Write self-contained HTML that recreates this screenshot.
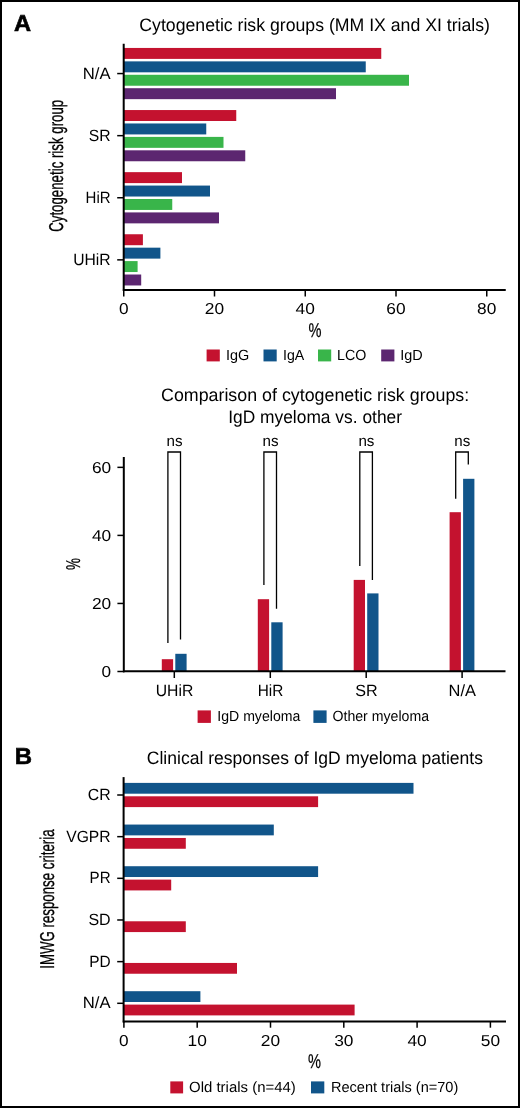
<!DOCTYPE html>
<html lang="en">
<head>
<meta charset="utf-8">
<title>Cytogenetic risk groups and clinical responses in IgD myeloma</title>
<style>
html,body{margin:0;padding:0;background:#fff;}
body{width:520px;height:1108px;overflow:hidden;}
.fig{position:relative;width:520px;height:1108px;box-sizing:border-box;border:2px solid #000;background:#fff;}
svg{position:absolute;left:-2px;top:-2px;display:block;will-change:transform;}
text{font-family:"Liberation Sans", Arial, Helvetica, sans-serif;fill:#000;text-rendering:geometricPrecision;}
</style>
</head>
<body>
<div class="fig">
<svg width="520" height="1108" viewBox="0 0 520 1108">
<g id="chartA1">
<text x="14.00" y="30.60" font-size="23" font-weight="bold" textLength="17.10" lengthAdjust="spacingAndGlyphs" stroke="#000" stroke-width="0.6">A</text>
<text x="139.30" y="30.80" font-size="18" font-weight="normal" textLength="350.70" lengthAdjust="spacingAndGlyphs">Cytogenetic risk groups (MM IX and XI trials)</text>
<rect x="123.70" y="47.95" width="257.55" height="10.95" fill="#C4122F"/>
<rect x="123.70" y="61.37" width="242.05" height="10.95" fill="#11558A"/>
<rect x="123.70" y="74.79" width="285.30" height="10.95" fill="#39B54A"/>
<rect x="123.70" y="88.21" width="212.30" height="10.95" fill="#5C2670"/>
<line x1="117.20" y1="73.56" x2="123.70" y2="73.56" stroke="#000" stroke-width="1.5"/>
<text x="82.80" y="78.56" font-size="16.3" font-weight="normal" textLength="27.80" lengthAdjust="spacingAndGlyphs">N/A</text>
<rect x="123.70" y="110.05" width="112.55" height="10.95" fill="#C4122F"/>
<rect x="123.70" y="123.47" width="82.55" height="10.95" fill="#11558A"/>
<rect x="123.70" y="136.89" width="99.80" height="10.95" fill="#39B54A"/>
<rect x="123.70" y="150.31" width="121.55" height="10.95" fill="#5C2670"/>
<line x1="117.20" y1="135.66" x2="123.70" y2="135.66" stroke="#000" stroke-width="1.5"/>
<text x="88.80" y="140.66" font-size="16.3" font-weight="normal" textLength="21.80" lengthAdjust="spacingAndGlyphs">SR</text>
<rect x="123.70" y="172.15" width="58.30" height="10.95" fill="#C4122F"/>
<rect x="123.70" y="185.57" width="86.30" height="10.95" fill="#11558A"/>
<rect x="123.70" y="198.99" width="48.55" height="10.95" fill="#39B54A"/>
<rect x="123.70" y="212.41" width="95.30" height="10.95" fill="#5C2670"/>
<line x1="117.20" y1="197.75" x2="123.70" y2="197.75" stroke="#000" stroke-width="1.5"/>
<text x="85.60" y="202.75" font-size="16.3" font-weight="normal" textLength="25.00" lengthAdjust="spacingAndGlyphs">HiR</text>
<rect x="123.70" y="234.25" width="19.20" height="10.95" fill="#C4122F"/>
<rect x="123.70" y="247.67" width="36.70" height="10.95" fill="#11558A"/>
<rect x="123.70" y="261.09" width="13.90" height="10.95" fill="#39B54A"/>
<rect x="123.70" y="274.51" width="17.50" height="10.95" fill="#5C2670"/>
<line x1="117.20" y1="259.86" x2="123.70" y2="259.86" stroke="#000" stroke-width="1.5"/>
<text x="73.20" y="264.86" font-size="16.3" font-weight="normal" textLength="37.40" lengthAdjust="spacingAndGlyphs">UHiR</text>
<line x1="123.70" y1="43.75" x2="123.70" y2="290.95" stroke="#000" stroke-width="2"/>
<line x1="122.90" y1="289.95" x2="505.75" y2="289.95" stroke="#000" stroke-width="2"/>
<line x1="123.75" y1="289.95" x2="123.75" y2="296.50" stroke="#000" stroke-width="1.5"/>
<text x="118.95" y="314.40" font-size="15.8" font-weight="normal" textLength="9.60" lengthAdjust="spacingAndGlyphs">0</text>
<line x1="214.50" y1="289.95" x2="214.50" y2="296.50" stroke="#000" stroke-width="1.5"/>
<text x="204.85" y="314.40" font-size="15.8" font-weight="normal" textLength="19.30" lengthAdjust="spacingAndGlyphs">20</text>
<line x1="305.25" y1="289.95" x2="305.25" y2="296.50" stroke="#000" stroke-width="1.5"/>
<text x="295.60" y="314.40" font-size="15.8" font-weight="normal" textLength="19.30" lengthAdjust="spacingAndGlyphs">40</text>
<line x1="396.00" y1="289.95" x2="396.00" y2="296.50" stroke="#000" stroke-width="1.5"/>
<text x="386.35" y="314.40" font-size="15.8" font-weight="normal" textLength="19.30" lengthAdjust="spacingAndGlyphs">60</text>
<line x1="486.75" y1="289.95" x2="486.75" y2="296.50" stroke="#000" stroke-width="1.5"/>
<text x="477.10" y="314.40" font-size="15.8" font-weight="normal" textLength="19.30" lengthAdjust="spacingAndGlyphs">80</text>
<text transform="translate(62.50,231.80) rotate(-90)" font-size="20" textLength="132.00" lengthAdjust="spacingAndGlyphs" stroke="#000" stroke-width="0.3">Cytogenetic risk group</text>
<text x="308.40" y="337.00" font-size="20" font-weight="normal" textLength="13.00" lengthAdjust="spacingAndGlyphs" stroke="#000" stroke-width="0.25">%</text>
<rect x="206.60" y="349.50" width="13.20" height="11.90" fill="#C4122F"/>
<text x="226.00" y="359.90" font-size="14.7" font-weight="normal" textLength="23.30" lengthAdjust="spacingAndGlyphs">IgG</text>
<rect x="263.50" y="349.50" width="13.20" height="11.90" fill="#11558A"/>
<text x="283.00" y="359.90" font-size="14.7" font-weight="normal" textLength="21.30" lengthAdjust="spacingAndGlyphs">IgA</text>
<rect x="318.00" y="349.50" width="13.20" height="11.90" fill="#39B54A"/>
<text x="337.00" y="359.90" font-size="14.7" font-weight="normal" textLength="29.30" lengthAdjust="spacingAndGlyphs">LCO</text>
<rect x="381.20" y="349.50" width="13.20" height="11.90" fill="#5C2670"/>
<text x="400.30" y="359.90" font-size="14.7" font-weight="normal" textLength="22.50" lengthAdjust="spacingAndGlyphs">IgD</text>
</g>
<g id="chartA2">
<text x="161.00" y="401.20" font-size="18" font-weight="normal" textLength="308.20" lengthAdjust="spacingAndGlyphs">Comparison of cytogenetic risk groups:</text>
<text x="228.20" y="423.00" font-size="18" font-weight="normal" textLength="173.80" lengthAdjust="spacingAndGlyphs">IgD myeloma vs. other</text>
<rect x="161.80" y="659.20" width="11.30" height="12.10" fill="#C4122F"/>
<rect x="175.30" y="653.80" width="11.30" height="17.50" fill="#11558A"/>
<polyline points="167.90,643.00 167.90,452 180.50,452 180.50,639.60" fill="none" stroke="#000" stroke-width="1.3"/>
<text x="166.50" y="446.40" font-size="15.2" font-weight="normal" textLength="16.00" lengthAdjust="spacingAndGlyphs">ns</text>
<line x1="174.30" y1="671.30" x2="174.30" y2="678.00" stroke="#000" stroke-width="1.5"/>
<text x="155.70" y="696.30" font-size="16.3" font-weight="normal" textLength="37.60" lengthAdjust="spacingAndGlyphs">UHiR</text>
<rect x="257.80" y="599.20" width="11.30" height="72.10" fill="#C4122F"/>
<rect x="271.30" y="622.30" width="11.30" height="49.00" fill="#11558A"/>
<polyline points="263.90,585.00 263.90,452 276.50,452 276.50,608.80" fill="none" stroke="#000" stroke-width="1.3"/>
<text x="262.50" y="446.40" font-size="15.2" font-weight="normal" textLength="16.00" lengthAdjust="spacingAndGlyphs">ns</text>
<line x1="270.30" y1="671.30" x2="270.30" y2="678.00" stroke="#000" stroke-width="1.5"/>
<text x="257.70" y="696.30" font-size="16.3" font-weight="normal" textLength="25.60" lengthAdjust="spacingAndGlyphs">HiR</text>
<rect x="353.70" y="579.90" width="11.30" height="91.40" fill="#C4122F"/>
<rect x="367.20" y="593.40" width="11.30" height="77.90" fill="#11558A"/>
<polyline points="359.80,566.00 359.80,452 372.40,452 372.40,580.00" fill="none" stroke="#000" stroke-width="1.3"/>
<text x="358.40" y="446.40" font-size="15.2" font-weight="normal" textLength="16.00" lengthAdjust="spacingAndGlyphs">ns</text>
<line x1="366.20" y1="671.30" x2="366.20" y2="678.00" stroke="#000" stroke-width="1.5"/>
<text x="355.20" y="696.30" font-size="16.3" font-weight="normal" textLength="22.40" lengthAdjust="spacingAndGlyphs">SR</text>
<rect x="449.60" y="512.20" width="11.30" height="159.10" fill="#C4122F"/>
<rect x="463.10" y="478.80" width="11.30" height="192.50" fill="#11558A"/>
<polyline points="455.70,498.70 455.70,452 468.30,452 468.30,464.40" fill="none" stroke="#000" stroke-width="1.3"/>
<text x="454.30" y="446.40" font-size="15.2" font-weight="normal" textLength="16.00" lengthAdjust="spacingAndGlyphs">ns</text>
<line x1="462.10" y1="671.30" x2="462.10" y2="678.00" stroke="#000" stroke-width="1.5"/>
<text x="448.60" y="696.30" font-size="16.3" font-weight="normal" textLength="27.40" lengthAdjust="spacingAndGlyphs">N/A</text>
<line x1="123.80" y1="457.00" x2="123.80" y2="672.30" stroke="#000" stroke-width="2"/>
<line x1="123.00" y1="671.30" x2="505.50" y2="671.30" stroke="#000" stroke-width="2"/>
<line x1="117.40" y1="671.50" x2="123.80" y2="671.50" stroke="#000" stroke-width="1.5"/>
<text x="101.60" y="677.00" font-size="15.8" font-weight="normal" textLength="9.60" lengthAdjust="spacingAndGlyphs">0</text>
<line x1="117.40" y1="603.45" x2="123.80" y2="603.45" stroke="#000" stroke-width="1.5"/>
<text x="91.90" y="608.95" font-size="15.8" font-weight="normal" textLength="19.30" lengthAdjust="spacingAndGlyphs">20</text>
<line x1="117.40" y1="535.40" x2="123.80" y2="535.40" stroke="#000" stroke-width="1.5"/>
<text x="91.90" y="540.90" font-size="15.8" font-weight="normal" textLength="19.30" lengthAdjust="spacingAndGlyphs">40</text>
<line x1="117.40" y1="467.35" x2="123.80" y2="467.35" stroke="#000" stroke-width="1.5"/>
<text x="91.90" y="472.85" font-size="15.8" font-weight="normal" textLength="19.30" lengthAdjust="spacingAndGlyphs">60</text>
<text transform="translate(80.30,570.00) rotate(-90)" font-size="20" textLength="12.00" lengthAdjust="spacingAndGlyphs" stroke="#000" stroke-width="0.3">%</text>
<rect x="197.60" y="710.40" width="13.30" height="12.50" fill="#C4122F"/>
<text x="217.30" y="720.80" font-size="14.7" font-weight="normal" textLength="83.00" lengthAdjust="spacingAndGlyphs">IgD myeloma</text>
<rect x="313.40" y="710.40" width="13.20" height="12.50" fill="#11558A"/>
<text x="332.50" y="720.80" font-size="14.7" font-weight="normal" textLength="96.50" lengthAdjust="spacingAndGlyphs">Other myeloma</text>
</g>
<g id="chartB">
<text x="14.70" y="763.90" font-size="23" font-weight="bold" textLength="17.30" lengthAdjust="spacingAndGlyphs" stroke="#000" stroke-width="0.6">B</text>
<text x="146.80" y="764.00" font-size="18" font-weight="normal" textLength="336.20" lengthAdjust="spacingAndGlyphs">Clinical responses of IgD myeloma patients</text>
<rect x="123.60" y="782.90" width="289.90" height="10.80" fill="#11558A"/>
<rect x="123.60" y="796.30" width="194.50" height="10.80" fill="#C4122F"/>
<line x1="117.20" y1="795.00" x2="123.60" y2="795.00" stroke="#000" stroke-width="1.5"/>
<text x="87.80" y="799.90" font-size="16.3" font-weight="normal" textLength="22.80" lengthAdjust="spacingAndGlyphs">CR</text>
<rect x="123.60" y="824.56" width="150.20" height="10.80" fill="#11558A"/>
<rect x="123.60" y="837.96" width="62.20" height="10.80" fill="#C4122F"/>
<line x1="117.20" y1="836.66" x2="123.60" y2="836.66" stroke="#000" stroke-width="1.5"/>
<text x="66.20" y="841.56" font-size="16.3" font-weight="normal" textLength="44.40" lengthAdjust="spacingAndGlyphs">VGPR</text>
<rect x="123.60" y="866.22" width="194.50" height="10.80" fill="#11558A"/>
<rect x="123.60" y="879.62" width="47.60" height="10.80" fill="#C4122F"/>
<line x1="117.20" y1="878.32" x2="123.60" y2="878.32" stroke="#000" stroke-width="1.5"/>
<text x="89.60" y="883.22" font-size="16.3" font-weight="normal" textLength="21.00" lengthAdjust="spacingAndGlyphs">PR</text>
<rect x="123.60" y="921.28" width="62.20" height="10.80" fill="#C4122F"/>
<line x1="117.20" y1="919.98" x2="123.60" y2="919.98" stroke="#000" stroke-width="1.5"/>
<text x="88.40" y="924.88" font-size="16.3" font-weight="normal" textLength="22.20" lengthAdjust="spacingAndGlyphs">SD</text>
<rect x="123.60" y="962.94" width="113.40" height="10.80" fill="#C4122F"/>
<line x1="117.20" y1="961.64" x2="123.60" y2="961.64" stroke="#000" stroke-width="1.5"/>
<text x="89.20" y="966.54" font-size="16.3" font-weight="normal" textLength="21.40" lengthAdjust="spacingAndGlyphs">PD</text>
<rect x="123.60" y="991.20" width="76.80" height="10.80" fill="#11558A"/>
<rect x="123.60" y="1004.60" width="231.00" height="10.80" fill="#C4122F"/>
<line x1="117.20" y1="1003.30" x2="123.60" y2="1003.30" stroke="#000" stroke-width="1.5"/>
<text x="82.80" y="1008.20" font-size="16.3" font-weight="normal" textLength="27.80" lengthAdjust="spacingAndGlyphs">N/A</text>
<line x1="123.60" y1="777.10" x2="123.60" y2="1022.50" stroke="#000" stroke-width="2"/>
<line x1="122.80" y1="1021.50" x2="506.00" y2="1021.50" stroke="#000" stroke-width="2"/>
<line x1="123.90" y1="1021.50" x2="123.90" y2="1027.70" stroke="#000" stroke-width="1.5"/>
<text x="119.10" y="1046.10" font-size="15.8" font-weight="normal" textLength="9.60" lengthAdjust="spacingAndGlyphs">0</text>
<line x1="197.20" y1="1021.50" x2="197.20" y2="1027.70" stroke="#000" stroke-width="1.5"/>
<text x="187.55" y="1046.10" font-size="15.8" font-weight="normal" textLength="19.30" lengthAdjust="spacingAndGlyphs">10</text>
<line x1="270.50" y1="1021.50" x2="270.50" y2="1027.70" stroke="#000" stroke-width="1.5"/>
<text x="260.85" y="1046.10" font-size="15.8" font-weight="normal" textLength="19.30" lengthAdjust="spacingAndGlyphs">20</text>
<line x1="343.80" y1="1021.50" x2="343.80" y2="1027.70" stroke="#000" stroke-width="1.5"/>
<text x="334.15" y="1046.10" font-size="15.8" font-weight="normal" textLength="19.30" lengthAdjust="spacingAndGlyphs">30</text>
<line x1="417.10" y1="1021.50" x2="417.10" y2="1027.70" stroke="#000" stroke-width="1.5"/>
<text x="407.45" y="1046.10" font-size="15.8" font-weight="normal" textLength="19.30" lengthAdjust="spacingAndGlyphs">40</text>
<line x1="490.40" y1="1021.50" x2="490.40" y2="1027.70" stroke="#000" stroke-width="1.5"/>
<text x="480.75" y="1046.10" font-size="15.8" font-weight="normal" textLength="19.30" lengthAdjust="spacingAndGlyphs">50</text>
<text transform="translate(53.60,968.80) rotate(-90)" font-size="20" textLength="139.40" lengthAdjust="spacingAndGlyphs" stroke="#000" stroke-width="0.3">IMWG response criteria</text>
<text x="308.00" y="1067.80" font-size="20" font-weight="normal" textLength="13.00" lengthAdjust="spacingAndGlyphs" stroke="#000" stroke-width="0.25">%</text>
<rect x="170.30" y="1081.40" width="12.80" height="12.00" fill="#C4122F"/>
<text x="189.00" y="1092.40" font-size="14.7" font-weight="normal" textLength="106.80" lengthAdjust="spacingAndGlyphs">Old trials (n=44)</text>
<rect x="311.00" y="1081.40" width="13.30" height="12.00" fill="#11558A"/>
<text x="331.00" y="1092.40" font-size="14.7" font-weight="normal" textLength="127.30" lengthAdjust="spacingAndGlyphs">Recent trials (n=70)</text>
</g>
</svg>
</div>
</body>
</html>
